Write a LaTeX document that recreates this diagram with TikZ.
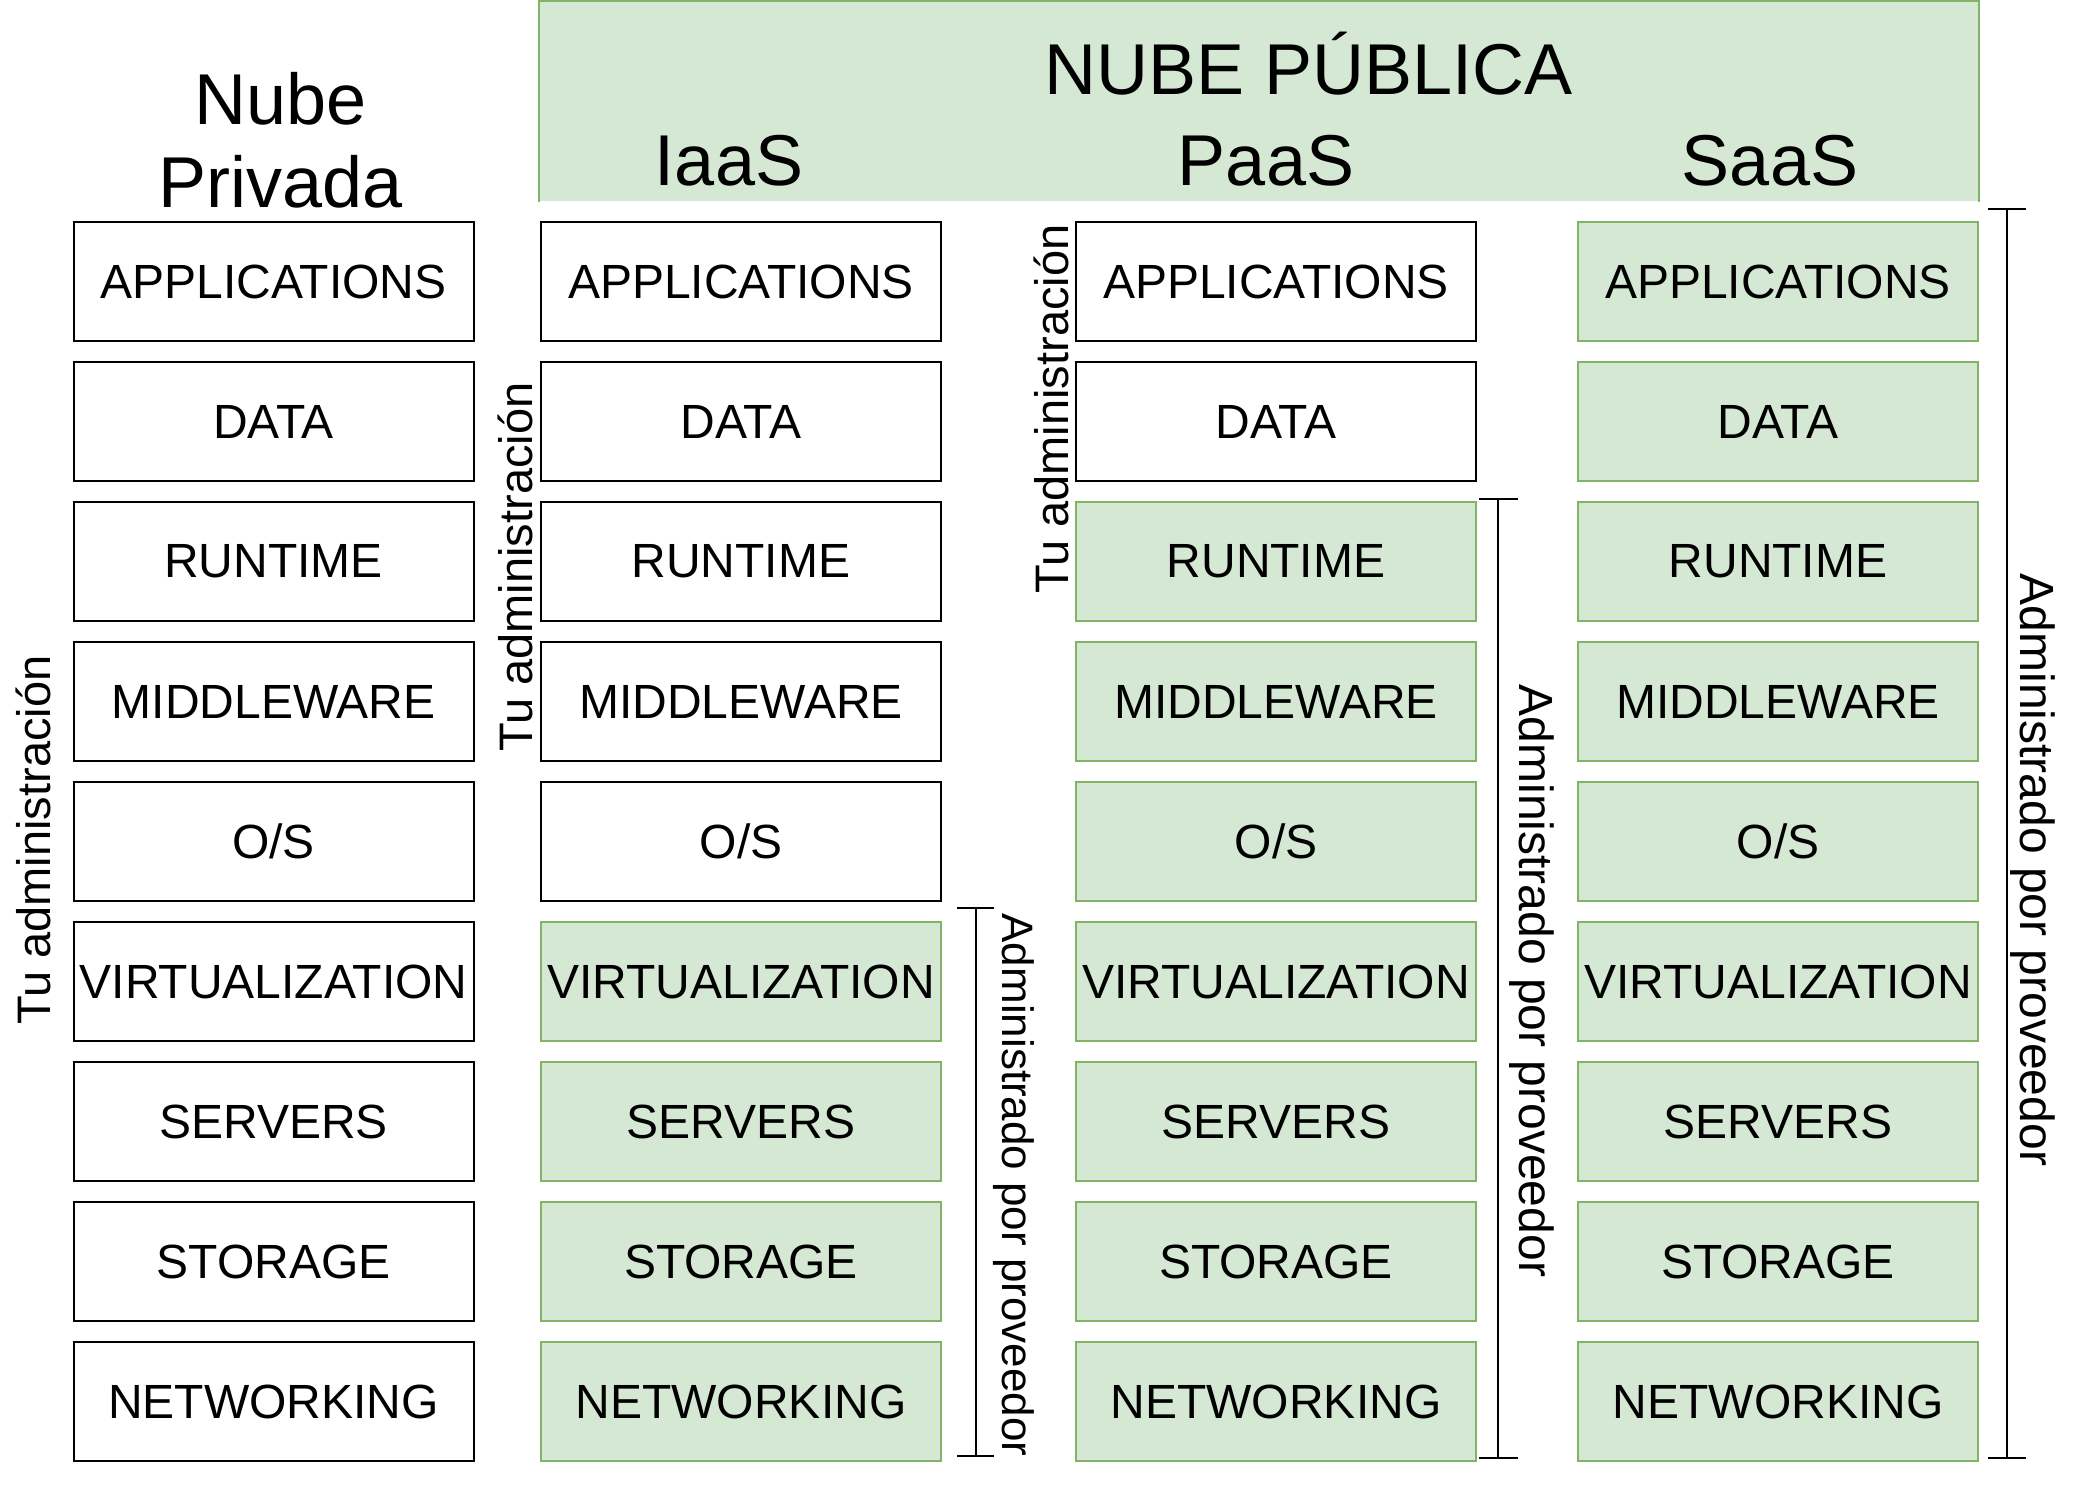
\documentclass[tikz,border=0pt]{standalone}
\usepackage{fontspec}
\setmainfont{Liberation Sans}
\definecolor{provfill}{HTML}{D5E8D4}
\definecolor{provborder}{HTML}{82B366}
\begin{document}
\begin{tikzpicture}[x=0.5pt,y=-0.5pt,
  boxbase/.style={draw, line width=1pt, minimum width=200pt, minimum height=59.5pt, inner sep=0pt, font=\fontsize{24}{28}\selectfont},
  mine/.style={boxbase, draw=black, fill=white},
  prov/.style={boxbase, draw=provborder, fill=provfill},
  vlab/.style={font=\fontsize{23.5}{28}\selectfont, anchor=base, inner sep=0pt},
  ttl/.style={font=\fontsize{36}{42}\selectfont, anchor=base, inner sep=0pt},
  brk/.style={line width=1pt, draw=black}]
\useasboundingbox[fill=white] (0,0) rectangle (2076,1496);

% header
\node[fill=provfill, inner sep=0pt, minimum width=719.5pt, minimum height=100pt, anchor=north west] (hdr) at (539,1) {};
\draw[provborder, line width=1pt] (hdr.south west) -- (hdr.north west) -- (hdr.north east) -- (hdr.south east);
\node[ttl] (pub) at (1309,94) {NUBE PÚBLICA};
\node[ttl] (iaas) at (729,185) {IaaS};
\node[ttl] (paas) at (1266,185) {PaaS};
\node[ttl] (saas) at (1770,185) {SaaS};
\node[ttl] (nube) at (281,124) {Nube};
\node[ttl] (priv) at (281,207) {Privada};

% stacks
\foreach \t [count=\i from 0] in {APPLICATIONS,DATA,RUNTIME,MIDDLEWARE,O/S,VIRTUALIZATION,SERVERS,STORAGE,NETWORKING} {
  \node[mine] (a\i) at (273.5, 281.5+140*\i) {\t};
  \ifnum\i<5 \def\sB{mine}\else\def\sB{prov}\fi
  \node[\sB] (b\i) at (741, 281.5+140*\i) {\t};
  \ifnum\i<2 \def\sC{mine}\else\def\sC{prov}\fi
  \node[\sC] (c\i) at (1276, 281.5+140*\i) {\t};
  \node[prov] (d\i) at (1778, 281.5+140*\i) {\t};
}

% vertical labels
\node[vlab, rotate=90] (tu1) at (50,840) {Tu administración};
\node[vlab, rotate=90] (tu2) at (532,567) {Tu administración};
\node[vlab, rotate=90] (tu3) at (1068,409) {Tu administración};
\node[vlab, rotate=-90, font=\fontsize{22}{26}\selectfont] (ad2) at (1002,1185) {Administrado por proveedor};
\node[vlab, rotate=-90, font=\fontsize{24}{28}\selectfont] (ad3) at (1519,981) {Administrado por proveedor};
\node[vlab, rotate=-90, font=\fontsize{24}{28}\selectfont] (ad4) at (2020,870) {Administrado por proveedor};

% brackets
\coordinate (i1) at (976,908);  \coordinate (i2) at (976,1456);
\coordinate (p1) at (1498,499); \coordinate (p2) at (1498,1458);
\coordinate (s1) at (2007,209); \coordinate (s2) at (2007,1458);
\draw[brk] (i1) -- (i2);
\draw[brk] ([xshift=-9.5pt]i1) -- ([xshift=9pt]i1);
\draw[brk] ([xshift=-9.5pt]i2) -- ([xshift=9pt]i2);
\draw[brk] (p1) -- (p2);
\draw[brk] ([xshift=-9.5pt]p1) -- ([xshift=10pt]p1);
\draw[brk] ([xshift=-9.5pt]p2) -- ([xshift=10pt]p2);
\draw[brk] (s1) -- (s2);
\draw[brk] ([xshift=-9.5pt]s1) -- ([xshift=9.5pt]s1);
\draw[brk] ([xshift=-9.5pt]s2) -- ([xshift=9.5pt]s2);
\end{tikzpicture}
\end{document}
